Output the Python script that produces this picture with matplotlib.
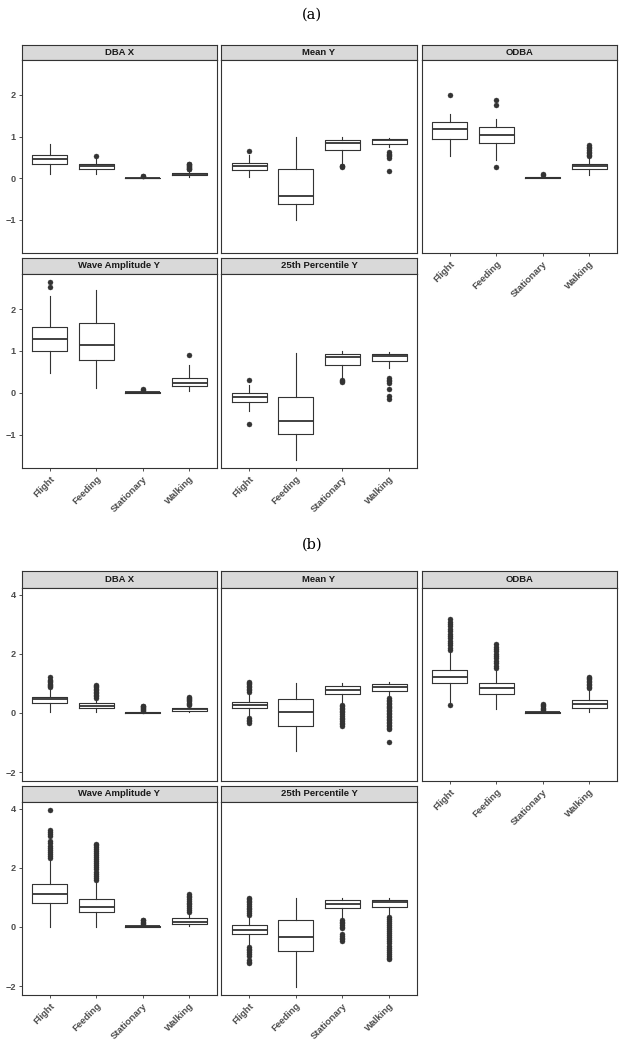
import matplotlib
matplotlib.use("Agg")
import matplotlib.pyplot as plt

# categories and facets
behaviours = ["Flight", "Feeding", "Stationary", "Walking"]
facets = ["DBA X", "Mean Y", "ODBA", "Wave Amplitude Y", "25th Percentile Y"]

# box stats per behaviour: [whisker low, q1, median, q3, whisker high]
# ---- panel (a)
a_dba_x = [[0.11, 0.35, 0.46, 0.55, 0.83], [0.11, 0.23, 0.28, 0.33, 0.45],
           [0.0, 0.0, 0.005, 0.015, 0.035], [0.03, 0.08, 0.11, 0.13, 0.19]]
a_dba_x_out = [[], [0.53], [0.05, 0.06],
               [0.21, 0.23, 0.25, 0.27, 0.29, 0.31, 0.33, 0.35]]
a_mean_y = [[0.03, 0.19, 0.29, 0.37, 0.55], [-1.01, -0.62, -0.42, 0.21, 0.98],
            [0.31, 0.67, 0.85, 0.91, 0.99], [0.76, 0.83, 0.91, 0.94, 0.97]]
a_mean_y_out = [[0.65], [], [0.26, 0.28, 0.30],
                [0.63, 0.59, 0.56, 0.53, 0.49, 0.18]]
a_odba = [[0.54, 0.94, 1.19, 1.35, 1.55], [0.43, 0.85, 1.03, 1.22, 1.41],
          [0.0, 0.005, 0.015, 0.03, 0.05], [0.07, 0.23, 0.29, 0.35, 0.5]]
a_odba_out = [[2.0], [1.88, 1.77, 0.26], [0.08, 0.1],
              [0.52, 0.56, 0.6, 0.64, 0.68, 0.72, 0.76, 0.79]]
a_wave_y = [[0.47, 1.0, 1.28, 1.58, 2.32], [0.12, 0.79, 1.14, 1.66, 2.45],
            [0.0, 0.005, 0.015, 0.025, 0.04], [0.04, 0.15, 0.24, 0.36, 0.66]]
a_wave_y_out = [[2.52, 2.64], [], [0.06, 0.08], [0.91]]
a_p25_y = [[-0.43, -0.21, -0.10, -0.01, 0.19], [-1.61, -0.98, -0.68, -0.09, 0.94],
           [0.34, 0.67, 0.85, 0.92, 0.995], [0.58, 0.77, 0.88, 0.93, 0.97]]
a_p25_y_out = [[0.31, -0.75], [], [0.30, 0.28, 0.26],
               [0.35, 0.31, 0.27, 0.23, 0.08, -0.07, -0.14]]

# ---- panel (b)
b_dba_x = [[0.04, 0.35, 0.46, 0.55, 0.85], [0.04, 0.18, 0.25, 0.33, 0.5],
           [0.0, 0.005, 0.01, 0.02, 0.05], [0.02, 0.07, 0.12, 0.16, 0.25]]
b_dba_x_out = [[0.87, 0.91, 0.95, 0.99, 1.03, 1.07, 1.11, 1.23],
               [0.52, 0.57, 0.62, 0.67, 0.72, 0.77, 0.82, 0.87, 0.91, 0.95],
               [0.07, 0.1, 0.13, 0.16, 0.19, 0.22, 0.24],
               [0.27, 0.31, 0.35, 0.39, 0.43, 0.47, 0.51, 0.55]]
b_mean_y = [[-0.12, 0.15, 0.27, 0.38, 0.7], [-1.28, -0.44, 0.03, 0.46, 1.02],
            [0.33, 0.63, 0.78, 0.91, 1.0], [0.52, 0.75, 0.89, 0.97, 1.06]]
b_mean_y_out = [[0.72, 0.77, 0.82, 0.87, 0.92, 0.97, 1.02, 1.06, -0.18, -0.23, -0.28, -0.33],
                [],
                [0.27, 0.22, 0.17, 0.12, 0.07, 0.02, -0.03, -0.12, -0.17, -0.22,
                 -0.28, -0.34, -0.39, -0.44],
                [0.50, 0.45, 0.40, 0.35, 0.30, 0.25, 0.20, 0.15, 0.10, 0.05, 0.0,
                 -0.05, -0.10, -0.15, -0.20, -0.25, -0.30, -0.35, -0.40, -0.45,
                 -0.50, -0.55, -0.97]]
b_odba = [[0.38, 1.0, 1.23, 1.45, 2.1], [0.13, 0.64, 0.83, 1.02, 1.5],
          [0.0, 0.005, 0.015, 0.03, 0.08], [0.04, 0.16, 0.29, 0.44, 0.8]]
b_odba_out = [[2.13, 2.2, 2.28, 2.36, 2.44, 2.52, 2.6, 2.68, 2.76, 2.84, 2.92,
               3.0, 3.08, 3.16, 0.27],
              [1.53, 1.6, 1.68, 1.76, 1.84, 1.92, 2.0, 2.08, 2.16, 2.24, 2.32],
              [0.1, 0.14, 0.18, 0.22, 0.26, 0.3],
              [0.83, 0.88, 0.93, 0.98, 1.03, 1.08, 1.13, 1.18, 1.23]]
b_wave_y = [[0.0, 0.8, 1.11, 1.45, 2.3], [0.0, 0.49, 0.67, 0.94, 1.56],
            [0.0, 0.005, 0.015, 0.03, 0.07], [0.02, 0.1, 0.18, 0.3, 0.5]]
b_wave_y_out = [[2.33, 2.4, 2.47, 2.54, 2.61, 2.68, 2.75, 2.82, 2.89, 3.06, 3.13,
                 3.2, 3.27, 3.94],
                [1.59, 1.66, 1.73, 1.80, 1.87, 1.94, 2.01, 2.08, 2.15, 2.22, 2.29,
                 2.36, 2.43, 2.5, 2.57, 2.64, 2.71, 2.78, 2.81],
                [0.1, 0.14, 0.18, 0.22, 0.24],
                [0.52, 0.58, 0.64, 0.7, 0.76, 0.82, 0.88, 0.94, 1.0, 1.06, 1.12]]
b_p25_y = [[-0.61, -0.25, -0.1, 0.05, 0.4], [-2.02, -0.8, -0.34, 0.23, 0.97],
           [0.29, 0.63, 0.77, 0.9, 0.98], [0.37, 0.67, 0.84, 0.92, 0.98]]
b_p25_y_out = [[0.41, 0.47, 0.53, 0.59, 0.65, 0.71, 0.77, 0.83, 0.89, 0.95, 0.97,
                -0.67, -0.73, -0.79, -0.85, -0.91, -0.98, -1.12, -1.18, -1.23],
               [],
               [0.24, 0.18, 0.12, 0.06, 0.0, -0.04, -0.24, -0.3, -0.36, -0.42, -0.47],
               [0.35, 0.28, 0.21, 0.14, 0.07, 0.0, -0.07, -0.14, -0.21, -0.28, -0.35,
                -0.42, -0.49, -0.56, -0.63, -0.7, -0.77, -0.84, -0.91, -0.98,
                -1.04, -1.1]]

a_boxes = [a_dba_x, a_mean_y, a_odba, a_wave_y, a_p25_y]
a_outs = [a_dba_x_out, a_mean_y_out, a_odba_out, a_wave_y_out, a_p25_y_out]
b_boxes = [b_dba_x, b_mean_y, b_odba, b_wave_y, b_p25_y]
b_outs = [b_dba_x_out, b_mean_y_out, b_odba_out, b_wave_y_out, b_p25_y_out]

a_yticks = [-1, 0, 1, 2]
b_yticks = [-2, 0, 2, 4]

W, H = 624, 1043
fig = plt.figure(figsize=(W / 100, H / 100), dpi=100)
dark = "#333333"


def px_axes(x0, y0, x1, y1):
    return fig.add_axes([x0 / W, 1 - y1 / H, (x1 - x0) / W, (y1 - y0) / H])


cols = [(22, 217), (221, 417), (422, 617)]
# facet slot -> (column, row)
slots = [(0, 0), (1, 0), (2, 0), (0, 1), (1, 1)]


def draw_block(rows, boxes, outs, ylim, yticks):
    for k, name in enumerate(facets):
        c, r = slots[k]
        x0, x1 = cols[c]
        (sy0, sy1), (py0, py1) = rows[r]
        # strip
        st = px_axes(x0, sy0, x1, sy1)
        st.set_facecolor("#D9D9D9")
        st.set_xticks([])
        st.set_yticks([])
        for s in st.spines.values():
            s.set_color(dark)
            s.set_linewidth(0.8)
        st.text(0.5, 0.5, name, ha="center", va="center", fontsize=6.8,
                fontweight="bold", family="Liberation Sans", color="#1A1A1A",
                transform=st.transAxes)

        ax = px_axes(x0, py0, x1, py1)
        stats = []
        for b, o in zip(boxes[k], outs[k]):
            stats.append({"whislo": b[0], "q1": b[1], "med": b[2], "q3": b[3],
                          "whishi": b[4], "fliers": o})
        ax.bxp(stats, positions=[1, 2, 3, 4], widths=0.75, showcaps=False,
               boxprops=dict(color=dark, linewidth=0.8),
               whiskerprops=dict(color=dark, linewidth=0.8),
               medianprops=dict(color=dark, linewidth=1.3),
               flierprops=dict(marker="o", markersize=3.6, markerfacecolor=dark,
                               markeredgecolor=dark, markeredgewidth=0.3))
        ax.set_xlim(0.4, 4.6)
        ax.set_ylim(*ylim)
        for s in ax.spines.values():
            s.set_color(dark)
            s.set_linewidth(0.8)
        ax.tick_params(length=2.5, width=0.6, color=dark, pad=2)
        ax.set_yticks(yticks)
        if c == 0:
            ax.set_yticklabels([str(t).replace("-", "\u2212") for t in yticks],
                               fontsize=6.6, fontweight="bold", color="#4D4D4D",
                               family="Liberation Sans")
        else:
            ax.tick_params(axis="y", length=0, labelleft=False)
        bottom = (r == 1) or (c == 2)
        ax.set_xticks([1, 2, 3, 4])
        if bottom:
            ax.set_xticklabels(behaviours, rotation=45, ha="right",
                               rotation_mode="anchor", fontsize=6.8,
                               fontweight="bold", color="#4D4D4D",
                               family="Liberation Sans")
        else:
            ax.tick_params(axis="x", length=0, labelbottom=False)


draw_block([((45, 60), (60, 253)), ((258, 274), (274, 468))],
           a_boxes, a_outs, (-1.8, 2.84), a_yticks)
draw_block([((571, 588), (588, 781)), ((786, 802), (802, 995))],
           b_boxes, b_outs, (-2.3, 4.22), b_yticks)

fig.text(312 / W, 1 - 15 / H, "(a)", ha="center", va="center", fontsize=10.5,
         family="DejaVu Serif")
fig.text(312 / W, 1 - 545 / H, "(b)", ha="center", va="center", fontsize=10.5,
         family="DejaVu Serif")

fig.savefig("out.png", dpi=100, facecolor="white")
